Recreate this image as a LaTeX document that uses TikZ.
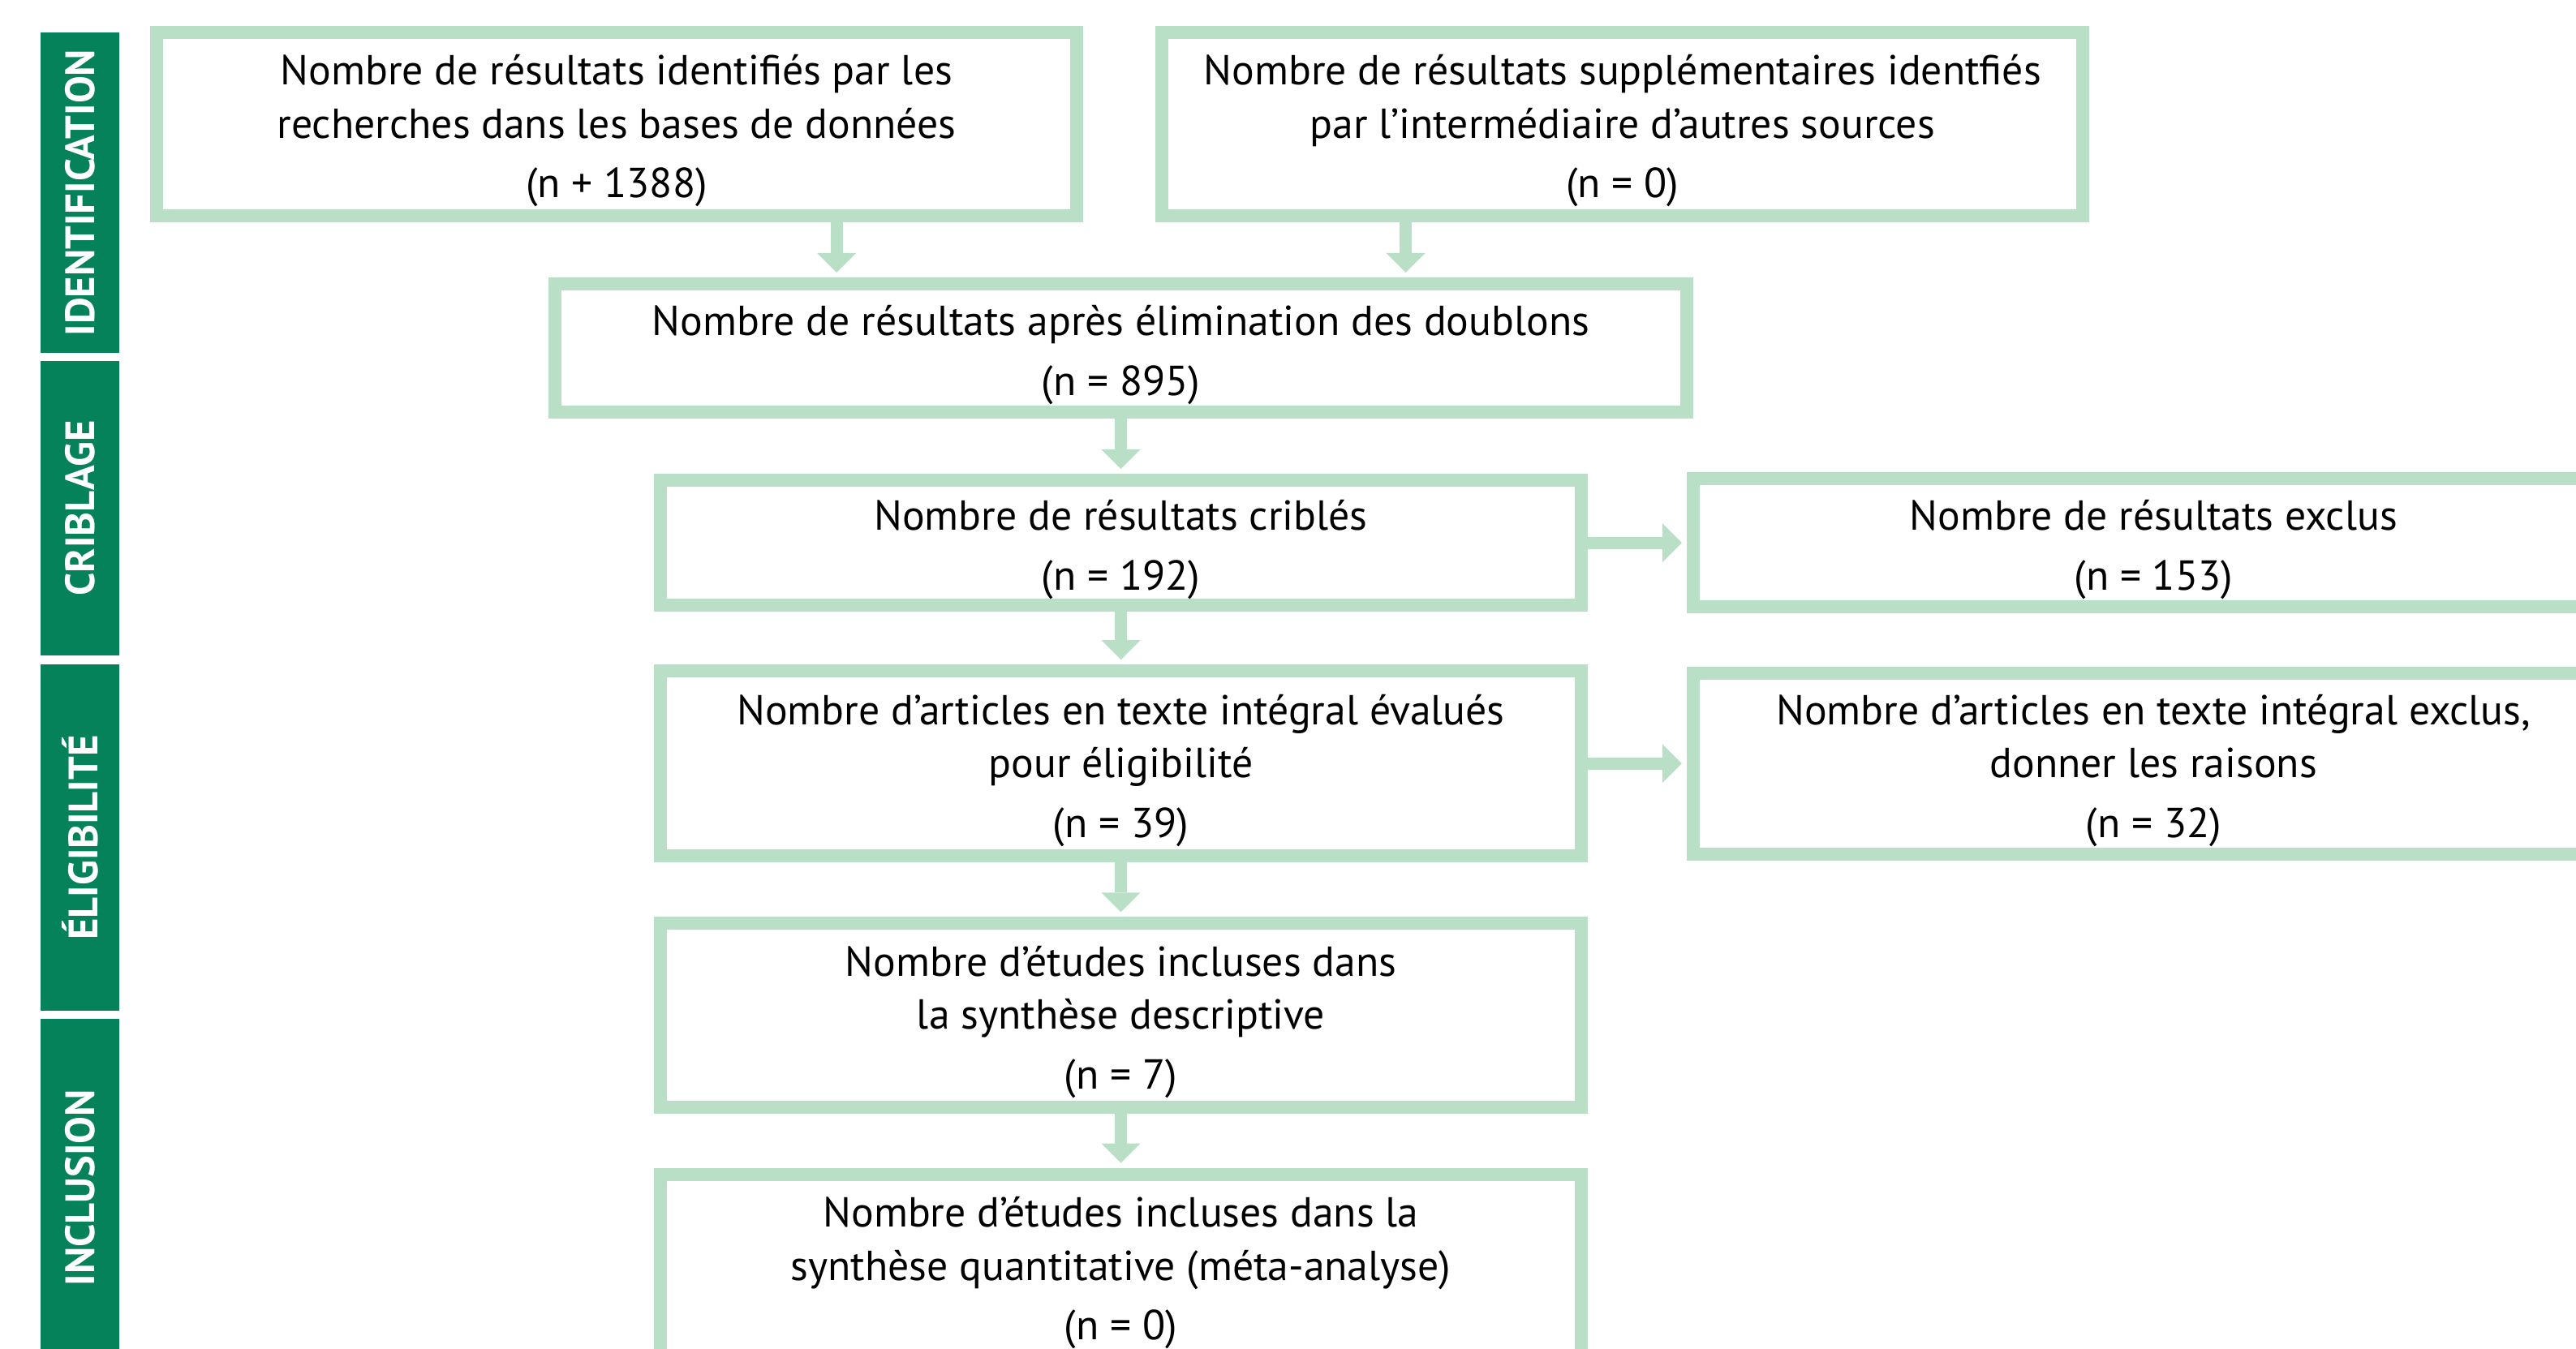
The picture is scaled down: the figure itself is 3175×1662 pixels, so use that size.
\documentclass[tikz,border=0pt]{standalone}
\usepackage{fontspec}
\setmainfont{PT Sans}
\usepackage{tikz}
\usetikzlibrary{arrows.meta, positioning}
\definecolor{boxgreen}{RGB}{185,224,198}
\definecolor{phasegreen}{RGB}{5,130,90}
\newcommand{\topgap}{\rule{0pt}{0.54cm}}
\tikzset{
  flowbox/.style={rectangle, draw=boxgreen, fill=white, line width=0.16cm,
    minimum width=11.34cm, align=center, inner sep=0pt,
    font=\fontsize{14.7}{18.6}\selectfont},
  phasebar/.style={rectangle, fill=phasegreen, text=white, rotate=90,
    minimum height=0.97cm, inner sep=0pt,
    font=\fontsize{14.4}{16}\selectfont\bfseries},
  arrow/.style={-{Triangle[width=0.48cm, length=0.24cm, line width=0pt]},
    line width=0.15cm, color=boxgreen, shorten >=0.06cm}
}

\begin{document}
\begin{tikzpicture}[x=0.01cm, y=-0.01cm, node distance=0.68cm and 1.22cm]
  \useasboundingbox (0,0) rectangle (3175,1662);
  \clip (0,0) rectangle (3175,1662);

  % Phases
  \node[phasebar, minimum width=3.95cm] (pident) at (98.5,237.5) {IDENTIFICATION};
  \node[phasebar, minimum width=3.63cm] (pcrib) at (98.5,626.5) {CRIBLAGE};
  \node[phasebar, minimum width=4.27cm] (pelig) at (98.5,1032.5) {ÉLIGIBILITÉ};
  \node[phasebar, minimum width=4.16cm] (pincl) at (98.5,1464) {INCLUSION};

  % Boxes
  \node[flowbox, minimum height=2.26cm] (found) at (760,153)
    {\topgap Nombre de résultats identifiés par les\\recherches dans les bases de données\\[0.08cm](n + 1388)};
  \node[flowbox, minimum height=2.26cm, right=0.89cm of found] (other)
    {\topgap Nombre de résultats supplémentaires identfiés\\par l’intermédiaire d’autres sources\\[0.08cm](n = 0)};
  \node[flowbox, minimum width=13.95cm, minimum height=1.58cm] (dedup) at (1381.5,429)
    {\topgap Nombre de résultats après élimination des doublons\\[0.08cm](n = 895)};
  \node[flowbox, minimum height=1.54cm, below=of dedup] (screened)
    {\topgap Nombre de résultats criblés\\[0.08cm](n = 192)};
  \node[flowbox, minimum height=1.58cm, right=of screened] (screenex)
    {\topgap Nombre de résultats exclus\\[0.08cm](n = 153)};
  \node[flowbox, minimum height=2.28cm, below=0.65cm of screened] (fulltext)
    {\topgap Nombre d’articles en texte intégral évalués\\pour éligibilité\\[0.08cm](n = 39)};
  \node[flowbox, minimum height=2.23cm, right=of fulltext] (fullex)
    {\topgap Nombre d’articles en texte intégral exclus,\\donner les raisons\\[0.08cm](n = 32)};
  \node[flowbox, minimum height=2.26cm, below=0.67cm of fulltext] (descr)
    {\topgap Nombre d’études incluses dans\\la synthèse descriptive\\[0.08cm](n = 7)};
  \node[flowbox, minimum height=2.26cm, below=0.67cm of descr] (meta)
    {\topgap Nombre d’études incluses dans la\\synthèse quantitative (méta-analyse)\\[0.08cm](n = 0)};

  % Connections
  \coordinate (foundout) at ([xshift=2.71cm]found.south);
  \coordinate (otherout) at ([xshift=-2.67cm]other.south);
  \draw[arrow] (foundout) -- (foundout |- dedup.north);
  \draw[arrow] (otherout) -- (otherout |- dedup.north);
  \draw[arrow] (dedup) -- (screened);
  \draw[arrow] (screened) -- (screenex);
  \draw[arrow] (screened) -- (fulltext);
  \draw[arrow] (fulltext) -- (fullex);
  \draw[arrow] (fulltext) -- (descr);
  \draw[arrow] (descr) -- (meta);

\end{tikzpicture}
\end{document}
